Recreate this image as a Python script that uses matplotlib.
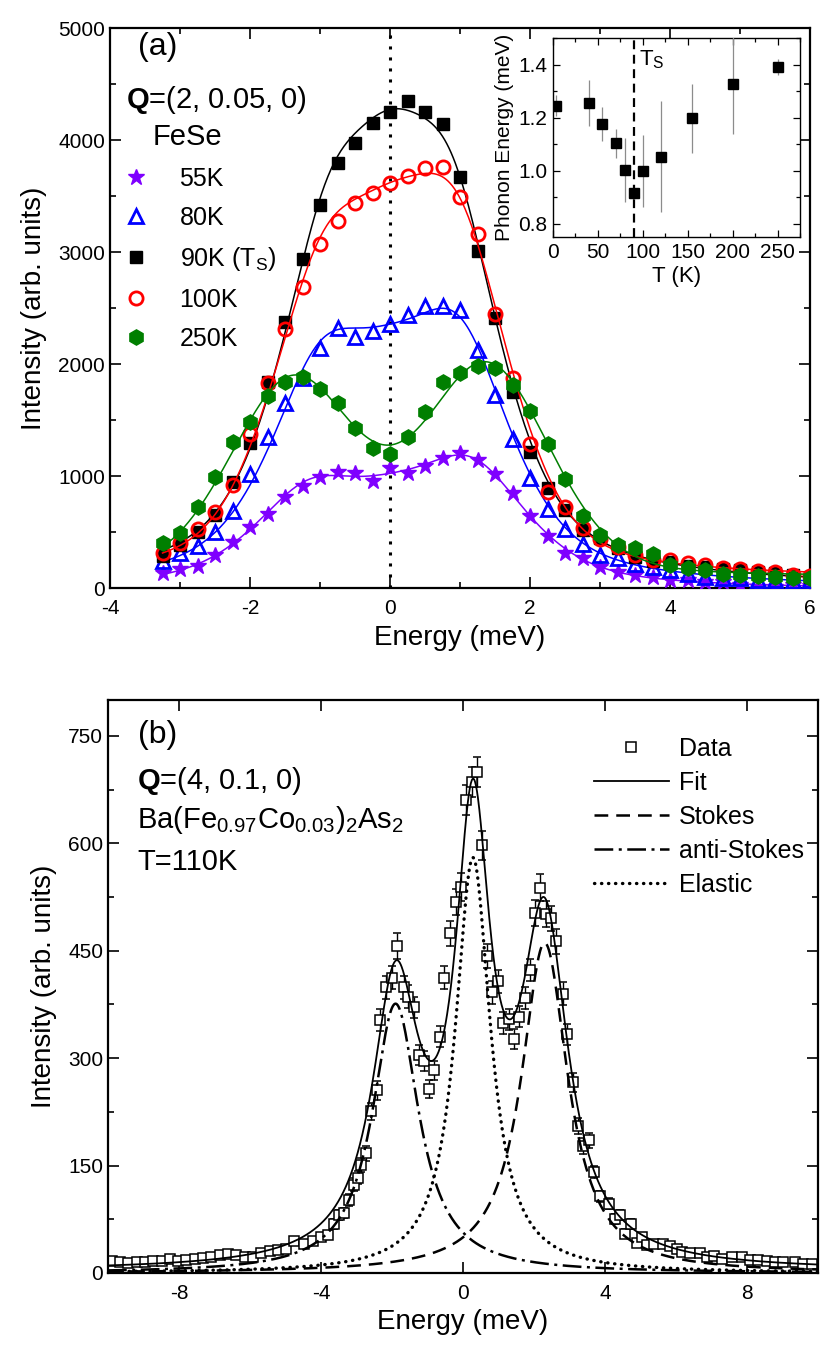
import numpy as np
import matplotlib
matplotlib.use('Agg')
import matplotlib.pyplot as plt
from matplotlib.lines import Line2D

plt.rcParams['font.family'] = ['Liberation Sans', 'DejaVu Sans']
plt.rcParams['mathtext.fontset'] = 'custom'
plt.rcParams['mathtext.rm'] = 'Liberation Sans'
plt.rcParams['mathtext.it'] = 'Liberation Sans:italic'
plt.rcParams['mathtext.bf'] = 'Liberation Sans:bold'
plt.rcParams['axes.unicode_minus'] = False

# ---------------- panel (a): FeSe, Q=(2,0.05,0) ----------------
energy_a = [-3.25, -3.0, -2.75, -2.5, -2.25, -2.0, -1.75, -1.5, -1.25, -1.0,
            -0.75, -0.5, -0.25, 0.0, 0.25, 0.5, 0.75, 1.0, 1.25, 1.5,
            1.75, 2.0, 2.25, 2.5, 2.75, 3.0, 3.25, 3.5, 3.75, 4.0,
            4.25, 4.5, 4.75, 5.0, 5.25, 5.5, 5.75, 6.0]
int_55K = [137, 167, 196, 295, 414, 548, 661, 815, 911, 994,
           1039, 1024, 955, 1068, 1030, 1089, 1158, 1202, 1143, 1018,
           845, 643, 464, 315, 265, 190, 146, 116, 101, 71,
           71, 57, 50, 27, 12, 12, 27, 20]
int_80K = [241, 310, 375, 503, 688, 1015, 1351, 1649, 1878, 2146,
           2324, 2244, 2298, 2354, 2437, 2518, 2518, 2482, 2125, 1723,
           1327, 979, 705, 524, 393, 295, 265, 211, 190, 161,
           125, 101, 86, 86, 71, 71, 65, 71]
int_90K = [290, 380, 503, 652, 949, 1298, 1842, 2378, 2937, 3420,
           3792, 3976, 4149, 4253, 4351, 4247, 4140, 3673, 3012, 2408,
           1753, 1217, 890, 696, 518, 443, 354, 280, 240, 230,
           200, 190, 170, 161, 145, 131, 115, 100]
int_100K = [310, 399, 524, 676, 920, 1372, 1830, 2310, 2690, 3071,
            3280, 3440, 3530, 3619, 3682, 3747, 3756, 3494, 3158, 2446,
            1872, 1286, 860, 720, 539, 435, 369, 295, 250, 250,
            220, 205, 182, 170, 155, 140, 116, 107]
int_250K = [405, 494, 726, 994, 1307, 1485, 1714, 1842, 1887, 1774,
            1655, 1426, 1247, 1193, 1345, 1574, 1836, 1923, 1982, 1965,
            1812, 1580, 1286, 973, 643, 473, 384, 354, 304, 205,
            176, 161, 125, 116, 107, 101, 86, 86]
temps_a = [55, 80, 90, 100, 250]
labels_a = ['55K', '80K', r'90K (T$_\mathrm{S}$)', '100K', '250K']

# inset: phonon energy vs T
T_inset = [3, 40, 55, 70, 80, 90, 100, 120, 155, 200, 250]
E_inset = [1.245, 1.255, 1.175, 1.103, 1.002, 0.914, 0.998, 1.053, 1.197, 1.327, 1.391]
dE_inset = [0.04, 0.085, 0.065, 0.055, 0.12, 0.02, 0.135, 0.21, 0.13, 0.19, 0.03]
T_S = 90

# ---------------- panel (b): Ba(Fe0.97Co0.03)2As2 ----------------
energy_b = [-9.90, -9.66, -9.43, -9.19, -8.96, -8.73, -8.49, -8.26, -8.02, -7.79,
            -7.56, -7.32, -7.09, -6.85, -6.62, -6.39, -6.15, -5.92, -5.69, -5.45,
            -5.22, -4.98, -4.75,
            -4.47, -4.23, -4.00, -3.81, -3.62, -3.48, -3.34, -3.20, -3.06, -2.97,
            -2.87, -2.73, -2.59, -2.41, -2.34, -2.17, -1.99, -1.87, -1.66, -1.56,
            -1.38, -1.24, -1.10, -0.96, -0.81, -0.65, -0.53, -0.37, -0.21, -0.07,
            0.08,
            0.24, 0.40, 0.54, 0.68, 0.82, 0.99, 1.12, 1.29, 1.43, 1.59,
            1.74, 1.88, 2.04, 2.18, 2.34, 2.49, 2.63, 2.81, 2.93, 3.09,
            3.24, 3.37, 3.54, 3.68, 3.87, 4.12, 4.29, 4.43, 4.57, 4.74,
            4.90,
            5.04, 5.18, 5.37, 5.63, 5.84, 6.02, 6.16, 6.40, 6.68, 6.87,
            7.07, 7.29, 7.57, 7.85, 8.08, 8.31, 8.55, 8.78, 9.02, 9.35,
            9.58, 9.82]
int_b = [17, 16, 14, 16, 16, 17, 17, 19, 17, 18,
         19, 21, 22, 25, 27, 25, 22, 22, 28, 31,
         32, 34, 44,
         41, 44, 50, 53, 68, 81, 84, 102, 123, 133,
         151, 167, 226, 255, 353, 399, 412, 456, 399, 386,
         371, 304, 296, 257, 283, 330, 412, 474, 518, 539,
         660,
         685, 699, 597, 443, 392, 407, 349, 354, 327, 358,
         384, 423, 503, 538, 501, 495, 463, 390, 333, 266,
         205, 177, 185, 141, 107, 97, 76, 81, 55, 68,
         42,
         50, 39, 41, 41, 37, 34, 30, 28, 28, 22,
         24, 20, 23, 23, 18, 18, 17, 16, 16, 16,
         13, 13]
err_b = [3, 3, 3, 3, 3, 3, 3, 3, 3, 3,
         3, 4, 4, 4, 4, 4, 4, 4, 4, 4,
         5, 5, 5,
         5, 5, 6, 6, 7, 7, 7, 8, 9, 9,
         10, 10, 12, 13, 15, 16, 16, 18, 16, 16,
         15, 14, 14, 13, 13, 15, 16, 17, 18, 19,
         21,
         21, 21, 20, 17, 16, 16, 15, 15, 14, 15,
         16, 16, 18, 19, 18, 18, 17, 16, 15, 13,
         11, 11, 11, 9, 8, 8, 7, 7, 6, 7,
         5,
         6, 5, 5, 5, 5, 5, 4, 4, 4, 4,
         4, 4, 4, 4, 3, 3, 3, 3, 3, 3,
         3, 3]

# fit components (Lorentzians)
comp_names = ['Stokes', 'anti-Stokes', 'Elastic']
comp_centre = [2.30, -1.90, 0.28]
comp_hwhm = [0.80, 0.80, 0.60]
comp_height = [461, 376, 580]
fit_background = 3


def lorentz(x, c, g):
    return 1.0 / (1.0 + ((x - c) / g) ** 2)


def gauss(x, c, s):
    return np.exp(-0.5 * ((x - c) / s) ** 2)


def make_basis(ep, w, eta):
    def basis(xx):
        cols = [(1 - eta) * gauss(xx, c, w) + eta * lorentz(xx, c, w * 1.18)
                for c in (-ep, 0.0, ep)]
        cols.append(np.ones_like(xx))
        return np.column_stack(cols)
    return basis


def phonon_fit(x, y, ep, xf):
    # elastic + Stokes/anti-Stokes at +-ep (pseudo-Voigt), linear amplitudes,
    # width and shape picked by a small grid search
    x = np.asarray(x, float)
    y = np.asarray(y, float)
    best = None
    for w in np.linspace(0.4, 1.1, 29):
        for eta in [0.0, 0.2, 0.4, 0.6, 0.8]:
            basis = make_basis(ep, w, eta)
            A = basis(x)
            coef, *_ = np.linalg.lstsq(A, y, rcond=None)
            if np.any(coef[:3] < 0):
                continue
            res = np.sum((A @ coef - y) ** 2)
            if best is None or res < best[0]:
                best = (res, basis, coef)
    return best[1](xf) @ best[2]


W, H = 830, 1364
fig = plt.figure(figsize=(W / 100, H / 100), dpi=100)


def box(l, t, r, b):
    return [l / W, 1 - b / H, (r - l) / W, (b - t) / H]


def style_axes(ax, fs, major=8, minor=4.5):
    ax.tick_params(which='both', direction='in', top=True, right=True, width=1.2)
    ax.tick_params(which='major', length=major, labelsize=fs)
    ax.tick_params(axis='x', which='major', pad=8)
    ax.tick_params(which='minor', length=minor)
    for s in ax.spines.values():
        s.set_linewidth(1.6)


# ---- panel (a)
ax = fig.add_axes(box(110, 28, 810, 588))
series = [int_55K, int_80K, int_90K, int_100K, int_250K]
colors = ['#7F00FF', '#0000FF', '#000000', '#FF0000', '#007F00']
markers = ['*', '^', 's', 'o', 'h']
msizes = [12, 10, 9, 9.5, 11]
filled = [True, False, True, False, True]
zord = [3, 4, 5, 6, 7]
xf = np.linspace(energy_a[0], energy_a[-1], 600)
handles = []
for y, T, c, m, ms, f, z, lab in zip(series, temps_a, colors, markers, msizes,
                                     filled, zord, labels_a):
    ep = E_inset[T_inset.index(T)]
    ax.plot(xf, phonon_fit(energy_a, y, ep, xf), color=c, lw=1.1, zorder=z)
    h, = ax.plot(energy_a, y, linestyle='none', marker=m, ms=ms,
                 mfc=c if f else 'none', mec=c, mew=2 if not f else 1,
                 zorder=z + 0.5, label=lab)
    handles.append(h)
ax.axvline(0, color='black', lw=2.2, linestyle=(0, (1, 2.6)), zorder=2)
ax.set_xlim(-4, 6)
ax.set_ylim(0, 5000)
ax.set_xticks([-4, -2, 0, 2, 4, 6])
ax.set_xticks(np.arange(-4, 7, 1), minor=True)
ax.set_yticks(np.arange(0, 5001, 1000))
ax.set_yticks(np.arange(0, 5001, 500), minor=True)
style_axes(ax, 15)
ax.set_xlabel('Energy (meV)', fontsize=20, labelpad=5)
ax.set_ylabel('Intensity (arb. units)', fontsize=20, labelpad=8)
ax.legend(handles=handles, loc='upper left', bbox_to_anchor=(0.01, 0.752),
          frameon=False, fontsize=18, handlelength=1.5, handletextpad=1.0,
          labelspacing=0.6, borderpad=0, borderaxespad=0)
fig.text(138 / W, 1 - 47 / H, '(a)', fontsize=23, va='center')
fig.text(126 / W, 1 - 100 / H, r'$\mathbf{Q}$=(2, 0.05, 0)', fontsize=21, va='center')
fig.text(153 / W, 1 - 137 / H, 'FeSe', fontsize=21, va='center')

# ---- inset
axi = fig.add_axes(box(553, 38, 800, 237))
axi.errorbar(T_inset, E_inset, yerr=dE_inset, fmt='s', color='black', ms=6.5,
             ecolor='#8c8c8c', elinewidth=0.9, capsize=0, zorder=3)
axi.axvline(T_S, color='black', lw=1.6, linestyle=(0, (4, 2.5)), zorder=2)
axi.text(96, 1.42, r'T$_\mathrm{S}$', fontsize=16, va='center')
axi.set_xlim(0, 275)
axi.set_ylim(0.75, 1.5)
axi.set_xticks([0, 50, 100, 150, 200, 250])
axi.set_xticks(np.arange(0, 276, 25), minor=True)
axi.set_yticks([0.8, 1.0, 1.2, 1.4])
axi.set_yticks(np.arange(0.8, 1.51, 0.1), minor=True)
axi.tick_params(which='both', direction='in', top=True, right=True, width=0.9)
axi.tick_params(which='major', length=5, labelsize=15, pad=4)
axi.tick_params(which='minor', length=3)
for s in axi.spines.values():
    s.set_linewidth(1.0)
axi.set_xlabel('T (K)', fontsize=16, labelpad=3)
axi.set_ylabel('Phonon Energy (meV)', fontsize=15, labelpad=3)

# ---- panel (b)
bx = fig.add_axes(box(108, 700, 818, 1273))
xb = np.linspace(-10, 10, 1500)
comps = [h * lorentz(xb, c, g) for c, g, h in zip(comp_centre, comp_hwhm, comp_height)]
total = fit_background + sum(comps)
bx.errorbar(energy_b, int_b, yerr=err_b, fmt='s', ms=6.5, mfc='white', mec='black',
            mew=1.1, ecolor='black', elinewidth=1.0, capsize=3, capthick=1.0,
            zorder=2)
leg_handles = [Line2D([], [], linestyle='none', marker='s', ms=6.5, mfc='white',
                      mec='black', mew=1.1)]
leg_labels = ['Data']
fit_line, = bx.plot(xb, total, color='black', lw=1.3, zorder=4)
leg_handles.append(fit_line)
leg_labels.append('Fit')
comp_styles = [(0, (5.5, 3.2)), (0, (7.5, 2.2, 1.2, 2.2)), (0, (0.1, 2.0))]
comp_lw = [1.8, 1.8, 2.4]
for yc, name, ls, lw in zip(comps, comp_names, comp_styles, comp_lw):
    ln, = bx.plot(xb, yc, color='black', lw=lw, linestyle=ls, zorder=3)
    if name == 'Elastic':
        ln.set_dash_capstyle('round')
    leg_handles.append(ln)
    leg_labels.append(name)
bx.set_xlim(-10, 10)
bx.set_ylim(0, 800)
bx.set_xticks([-8, -4, 0, 4, 8])
bx.set_yticks(np.arange(0, 751, 150))
bx.set_yticks(np.arange(0, 800, 75), minor=True)
style_axes(bx, 15)
bx.set_xlabel('Energy (meV)', fontsize=20, labelpad=4)
bx.set_ylabel('Intensity (arb. units)', fontsize=20, labelpad=8)
bx.legend(leg_handles, leg_labels, loc='upper left', bbox_to_anchor=(0.684, 0.935),
          frameon=False, fontsize=18, handlelength=3.0, handletextpad=0.4,
          labelspacing=0.4, borderpad=0, borderaxespad=0)
fig.text(138 / W, 1 - 735 / H, '(b)', fontsize=23, va='center')
fig.text(137 / W, 1 - 781 / H, r'$\mathbf{Q}$=(4, 0.1, 0)', fontsize=21, va='center')
fig.text(137 / W, 1 - 820 / H, r'Ba(Fe$_{0.97}$Co$_{0.03}$)$_2$As$_2$', fontsize=21, va='center')
fig.text(137 / W, 1 - 862 / H, 'T=110K', fontsize=21, va='center')

fig.savefig('out.png', dpi=100)
